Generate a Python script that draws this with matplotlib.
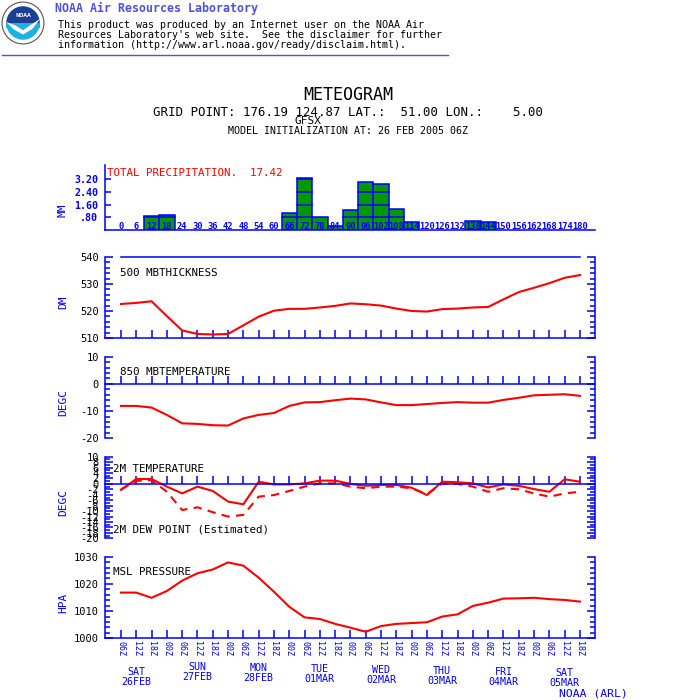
import matplotlib
matplotlib.use('Agg')
import matplotlib.pyplot as plt
from matplotlib.ticker import MultipleLocator, FixedLocator
from matplotlib.lines import Line2D
import matplotlib.patches as mpatches
import matplotlib.transforms as mtrans

plt.rcParams['font.family'] = ['DejaVu Sans Mono', 'DejaVu Sans']
plt.rcParams['axes.unicode_minus'] = False

# ---------------- data ----------------
hours = [0, 6, 12, 18, 24, 30, 36, 42, 48, 54, 60, 66, 72, 78, 84, 90, 96, 102,
         108, 114, 120, 126, 132, 138, 144, 150, 156, 162, 168, 174, 180]
hour_tick_labels = ['06Z', '12Z', '18Z', '00Z', '06Z', '12Z', '18Z', '00Z',
                    '06Z', '12Z', '18Z', '00Z', '06Z', '12Z', '18Z', '00Z',
                    '06Z', '12Z', '18Z', '00Z', '06Z', '12Z', '18Z', '00Z',
                    '06Z', '12Z', '18Z', '00Z', '06Z', '12Z', '18Z']
precip_hours = [12, 18, 66, 72, 78, 84, 90, 96, 102, 108, 114, 138, 144]
precip_mm = [0.88, 0.94, 1.10, 3.30, 0.80, 0.27, 1.25, 3.05, 2.90, 1.30, 0.50, 0.57, 0.48]
thickness = [522.6, 523.0, 523.6, 518.1, 512.8, 511.5, 511.3, 511.5, 514.7, 517.9,
             520.1, 520.8, 520.8, 521.3, 521.9, 522.8, 522.5, 522.0, 520.9, 520.0,
             519.8, 520.7, 520.9, 521.3, 521.5, 524.3, 527.0, 528.6, 530.3, 532.3, 533.3]
t850 = [-8.1, -8.1, -8.7, -11.4, -14.5, -14.7, -15.2, -15.3, -12.7, -11.4,
        -10.7, -8.1, -6.8, -6.7, -6.0, -5.4, -5.7, -6.8, -7.8, -7.8,
        -7.4, -7.0, -6.7, -6.9, -6.9, -5.9, -5.1, -4.2, -4.0, -3.8, -4.4]
t2m = [-2.2, 1.8, 1.8, -1.0, -3.5, -1.0, -2.6, -6.5, -7.5, 0.8,
       -0.2, -0.2, 0.2, 1.2, 1.2, 0.0, -0.7, -0.4, -0.4, -1.4,
       -4.1, 0.8, 0.6, 0.2, -1.3, -0.2, -0.7, -1.9, -2.9, 1.7, 0.8]
td2m = [-2.0, 1.1, 1.4, -2.9, -9.6, -8.6, -10.4, -12.0, -11.4, -4.7,
        -4.1, -2.6, -1.0, 0.2, 0.2, -1.0, -1.6, -1.0, -1.0, -1.6,
        -3.8, 0.2, 0.0, -1.0, -2.9, -1.6, -2.0, -3.5, -4.7, -3.5, -2.9]
mslp = [1016.8, 1016.8, 1014.9, 1017.4, 1021.2, 1023.9, 1025.3, 1027.9, 1026.7, 1022.3,
        1017.1, 1011.6, 1007.7, 1007.1, 1005.3, 1003.9, 1002.4, 1004.5, 1005.3, 1005.6,
        1005.9, 1008.0, 1008.8, 1011.9, 1013.1, 1014.6, 1014.7, 1014.9, 1014.4, 1014.1, 1013.5]
day_hours = [6, 30, 54, 78, 102, 126, 150, 174]
day_names = ['SAT', 'SUN', 'MON', 'TUE', 'WED', 'THU', 'FRI', 'SAT']
day_dates = ['26FEB', '27FEB', '28FEB', '01MAR', '02MAR', '03MAR', '04MAR', '05MAR']
total_precip = '17.42'

BLUE = '#0000ff'
RED = '#ff0000'
GREEN = '#009900'
HEADBLUE = '#5050e6'

fig = plt.figure(figsize=(7, 7), dpi=100)
fig.patch.set_facecolor('white')


def ax_at(l, t, r, b):
    return fig.add_axes([l / 700, 1 - b / 700, (r - l) / 700, (b - t) / 700])


def T(x, y, s, **kw):
    kw.setdefault('va', 'center')
    return fig.text(x / 700, 1 - y / 700, s, **kw)


XL, XR = 105, 595
XLIM = (-6.27, 185.9)

# ---------------- header ----------------
lax = ax_at(1, 1, 45, 45)
lax.set_xlim(-1.05, 1.05)
lax.set_ylim(-1.05, 1.05)
lax.set_aspect('equal')
lax.axis('off')
lax.add_patch(mpatches.Circle((0, 0), 1.0, facecolor='white', edgecolor='#555555', lw=0.8))
lax.add_patch(mpatches.Wedge((0, 0), 0.8, 0, 180, facecolor='#1c3f94'))
lax.add_patch(mpatches.Wedge((0, 0), 0.8, 180, 360, facecolor='#1fb0e8'))
lax.add_patch(mpatches.Rectangle((-0.8, -0.25), 1.6, 0.25, facecolor='#1fb0e8'))
lax.add_patch(mpatches.Polygon([(-0.8, 0.05), (-0.35, -0.12), (0.0, -0.35), (0.35, -0.1),
                                (0.82, 0.2), (0.45, -0.28), (0.0, -0.55), (-0.45, -0.3)],
                               closed=True, facecolor='white', edgecolor='none'))
lax.text(0, 0.38, 'NOAA', color='white', fontsize=3.5, ha='center', va='center',
         fontweight='bold', family='DejaVu Sans')

T(55, 8.5, 'NOAA Air Resources Laboratory', color=HEADBLUE, fontsize=8.4, fontweight='bold')
T(58, 25.5, 'This product was produced by an Internet user on the NOAA Air', fontsize=7.2)
T(58, 35.3, "Resources Laboratory's web site.  See the disclaimer for further", fontsize=7.2)
T(58, 45, 'information (http://www.arl.noaa.gov/ready/disclaim.html).', fontsize=7.2)
fig.add_artist(Line2D([2 / 700, 448 / 700], [1 - 54.5 / 700] * 2, color=HEADBLUE, lw=1.0))

# ---------------- titles ----------------
T(348, 95, 'METEOGRAM', fontsize=12, ha='center')
T(348, 113, 'GRID POINT: 176.19 124.87 LAT.:  51.00 LON.:    5.00', fontsize=8.9, ha='center')
T(308, 121, 'GFSX', fontsize=8.0, ha='center')
T(348, 131, 'MODEL INITIALIZATION AT: 26 FEB 2005 06Z', fontsize=7.2, ha='center')


def style(ax, ylim, major, minor, bottom_at, labsize=7.5):
    ax.set_xlim(XLIM)
    ax.set_ylim(ylim)
    ax.patch.set_alpha(0)
    for s in ax.spines.values():
        s.set_color(BLUE)
        s.set_linewidth(1.1)
    ax.spines['top'].set_visible(False)
    ax.spines['bottom'].set_position(('data', bottom_at))
    ax.yaxis.set_major_locator(MultipleLocator(major))
    ax.yaxis.set_minor_locator(MultipleLocator(minor))
    ax.tick_params(axis='y', which='both', direction='in', left=True, right=True,
                   color=BLUE, width=1.1, labelcolor='black', labelsize=labsize, pad=4.5)
    ax.tick_params(axis='y', which='major', length=6)
    ax.tick_params(axis='y', which='minor', length=3.5)
    ax.set_xticks(hours)
    ax.tick_params(axis='x', which='both', direction='in', length=5.5, color=BLUE,
                   width=1.1, labelbottom=False)


# ---------------- precipitation ----------------
ax1 = ax_at(XL, 165, XR, 230)
ax1.set_xlim(XLIM)
ax1.set_ylim(0, 4.1)
ax1.patch.set_alpha(0)
for k in ['top', 'right']:
    ax1.spines[k].set_visible(False)
for k in ['left', 'bottom']:
    ax1.spines[k].set_color(BLUE)
    ax1.spines[k].set_linewidth(1.1)
ax1.set_xticks([])
ax1.bar(precip_hours, precip_mm, width=6, color=GREEN, edgecolor=BLUE, linewidth=1.1, zorder=2)
for lev in [0.8, 1.6, 2.4, 3.2]:
    for h, v in zip(precip_hours, precip_mm):
        if v > lev:
            ax1.plot([h - 3, h + 3], [lev, lev], color=BLUE, lw=1.1, zorder=3)
for h in hours:
    ax1.text(h, 0.22, str(h), color=BLUE, fontsize=6.3, ha='center', va='center',
             fontweight='bold', zorder=4)
ax1.yaxis.set_major_locator(FixedLocator([0.8, 1.6, 2.4, 3.2]))
ax1.set_yticklabels(['.80', '1.60', '2.40', '3.20'])
ax1.tick_params(axis='y', direction='in', length=4, color=BLUE, width=1.1,
                labelcolor=BLUE, labelsize=7.2, pad=5)
for t in ax1.get_yticklabels():
    t.set_fontweight('bold')
T(107, 173, 'TOTAL PRECIPITATION.  ' + total_precip, color=RED, fontsize=7.8)
T(63, 210, 'MM', color=BLUE, fontsize=8, rotation=90, ha='center')

# ---------------- 500 mb thickness ----------------
ax2 = ax_at(XL, 257, XR, 338)
style(ax2, (510, 540), 10, 2, 510)
ax2.spines['top'].set_visible(True)
ax2.spines['top'].set_bounds(hours[0], hours[-1])
ax2.plot(hours, thickness, color=RED, lw=1.5)
T(120, 273, '500 MBTHICKNESS', fontsize=7.8)
T(63, 302, 'DM', color=BLUE, fontsize=8, rotation=90, ha='center')

# ---------------- 850 mb temperature ----------------
ax3 = ax_at(XL, 356.7, XR, 438.3)
style(ax3, (-20, 10), 10, 2, 0)
ax3.plot(hours, t850, color=RED, lw=1.5)
T(120, 372, '850 MBTEMPERATURE', fontsize=7.8)
T(63, 402, 'DEGC', color=BLUE, fontsize=8, rotation=90, ha='center')

# ---------------- 2 m temperature / dew point ----------------
ax4 = ax_at(XL, 456.7, XR, 538.3)
style(ax4, (-20, 10), 2, 1, 0)
ax4.plot(hours, t2m, color=RED, lw=1.5)
ax4.plot(hours, td2m, color=RED, lw=1.5, dashes=(4, 3))
T(113, 469, '2M TEMPERATURE', fontsize=7.8)
T(113, 530, '2M DEW POINT (Estimated)', fontsize=7.8)
T(63, 502, 'DEGC', color=BLUE, fontsize=8, rotation=90, ha='center')

# ---------------- MSL pressure ----------------
ax5 = ax_at(XL, 556.7, XR, 638.3)
style(ax5, (1000, 1030), 10, 2, 1000)
ax5.plot(hours, mslp, color=RED, lw=1.5)
ax5.tick_params(axis='x', labelbottom=True, labelcolor=BLUE, labelsize=6, pad=2)
ax5.set_xticklabels(hour_tick_labels, rotation=270, va='top', ha='center')
T(113, 572, 'MSL PRESSURE', fontsize=7.8)
T(63, 603, 'HPA', color=BLUE, fontsize=8, rotation=90, ha='center')

tr = mtrans.blended_transform_factory(ax5.transData, fig.transFigure)
for i, (h, n, d) in enumerate(zip(day_hours, day_names, day_dates)):
    yc = 677 if i == 0 else 671 + i
    ax5.text(h, 1 - yc / 700, n + '\n' + d, transform=tr, ha='center', va='center',
             color=BLUE, fontsize=7.2, linespacing=1.05)

T(593, 693, 'NOAA (ARL)', color=BLUE, fontsize=8.2, ha='center')

fig.savefig('out.png', dpi=100, facecolor='white')
